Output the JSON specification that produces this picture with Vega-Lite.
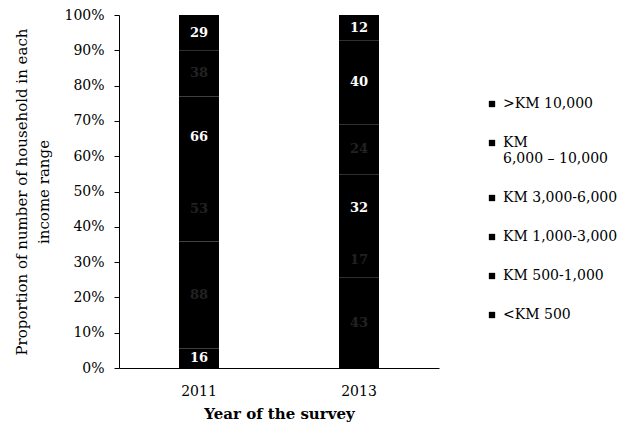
{
  "$schema": "https://vega.github.io/schema/vega-lite/v6.json",
  "width": 320,
  "height": 353,
  "autosize": {"type": "none"},
  "padding": {"left": 119, "top": 15, "right": 198, "bottom": 62},
  "background": "white",
  "config": {
    "font": "DejaVu Serif",
    "view": {"stroke": null},
    "axis": {"grid": false, "domainColor": "#000", "tickColor": "#000", "labelColor": "#000", "titleColor": "#000"}
  },
  "data": {
    "values": [
      {"year": "2011", "band": "<KM 500", "level": 1, "households": 16},
      {"year": "2011", "band": "KM 500-1,000", "level": 2, "households": 88},
      {"year": "2011", "band": "KM 1,000-3,000", "level": 3, "households": 53},
      {"year": "2011", "band": "KM 3,000-6,000", "level": 4, "households": 66},
      {"year": "2011", "band": "KM 6,000 – 10,000", "level": 5, "households": 38},
      {"year": "2011", "band": ">KM 10,000", "level": 6, "households": 29},
      {"year": "2013", "band": "<KM 500", "level": 1, "households": 43},
      {"year": "2013", "band": "KM 500-1,000", "level": 2, "households": 17},
      {"year": "2013", "band": "KM 1,000-3,000", "level": 3, "households": 32},
      {"year": "2013", "band": "KM 3,000-6,000", "level": 4, "households": 24},
      {"year": "2013", "band": "KM 6,000 – 10,000", "level": 5, "households": 40},
      {"year": "2013", "band": ">KM 10,000", "level": 6, "households": 12}
    ]
  },
  "encoding": {
    "x": {
      "field": "year",
      "type": "nominal",
      "scale": {"paddingInner": 0.75, "paddingOuter": 0.375},
      "axis": {"title": "Year of the survey", "labelAngle": 0, "labelFontSize": 14, "labelPadding": 16, "ticks": false, "titleFontSize": 15, "titleFontWeight": "bold", "titlePadding": 8}
    },
    "order": {"field": "level", "type": "quantitative", "sort": "ascending"}
  },
  "layer": [
    {
      "mark": {"type": "bar", "size": 40},
      "encoding": {
        "y": {
          "field": "households",
          "type": "quantitative",
          "stack": "normalize",
          "scale": {"domain": [0, 1]},
          "axis": {
            "title": ["Proportion of number of household in each", "income range"],
            "format": ".0%",
            "values": [0, 0.1, 0.2, 0.3, 0.4, 0.5, 0.6, 0.7, 0.8, 0.9, 1],
            "labelFontSize": 14,
            "labelPadding": 10,
            "labelOverlap": false,
            "tickSize": 5,
            "titleFontSize": 15,
            "titleFontWeight": "normal",
            "titleLineHeight": 22,
            "titlePadding": 12
          }
        },
        "color": {
          "field": "band",
          "type": "nominal",
          "sort": [">KM 10,000", "KM 6,000 – 10,000", "KM 3,000-6,000", "KM 1,000-3,000", "KM 500-1,000", "<KM 500"],
          "scale": {"range": ["#000000", "#000000", "#000000", "#000000", "#000000", "#000000"]},
          "legend": {
            "title": null,
            "orient": "none",
            "legendX": 366,
            "legendY": 82,
            "symbolType": "square",
            "symbolSize": 40,
            "labelFontSize": 14,
            "labelColor": "#000",
            "labelLimit": 200,
            "rowPadding": 25,
            "labelExpr": "datum.label == 'KM 6,000 – 10,000' ? ['KM', '6,000 – 10,000'] : datum.label"
          }
        }
      }
    },
    {
      "mark": {"type": "text", "fontSize": 13, "fontWeight": "bold", "baseline": "middle"},
      "encoding": {
        "y": {
          "field": "households",
          "type": "quantitative",
          "stack": "normalize",
          "bandPosition": 0.5,
          "axis": {
            "title": ["Proportion of number of household in each", "income range"],
            "format": ".0%",
            "values": [0, 0.1, 0.2, 0.3, 0.4, 0.5, 0.6, 0.7, 0.8, 0.9, 1],
            "labelFontSize": 14,
            "labelPadding": 10,
            "labelOverlap": false,
            "tickSize": 5,
            "titleFontSize": 15,
            "titleFontWeight": "normal",
            "titleLineHeight": 22,
            "titlePadding": 12
          }
        },
        "detail": {"field": "band"},
        "text": {"field": "households", "type": "quantitative"},
        "color": {
          "condition": {
            "test": "indexof(['2011|<KM 500', '2011|KM 3,000-6,000', '2011|>KM 10,000', '2013|KM 1,000-3,000', '2013|KM 6,000 – 10,000', '2013|>KM 10,000'], datum.year + '|' + datum.band) >= 0",
            "value": "#ffffff"
          },
          "value": "#222222"
        }
      }
    }
  ]
}
